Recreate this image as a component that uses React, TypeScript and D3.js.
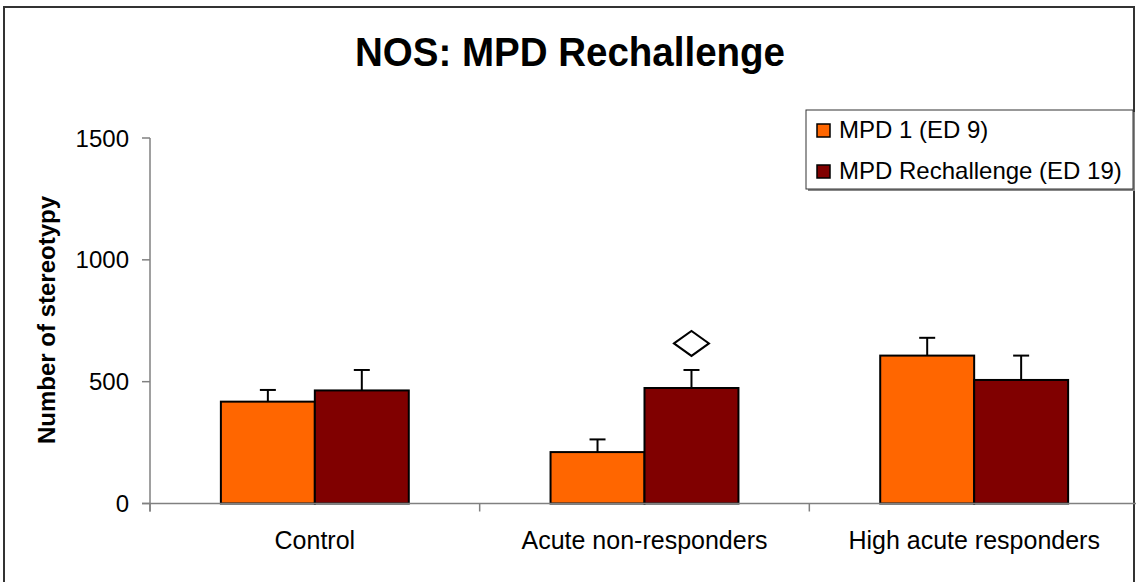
import { scaleBand, scaleLinear } from 'd3';

const categories = ['Control', 'Acute non-responders', 'High acute responders'];
const seriesNames = ['MPD 1 (ED 9)', 'MPD Rechallenge (ED 19)'];
const mpd1 = [418, 211, 607];
const mpd1Err = [48, 52, 73];
const rechallenge = [464, 474, 507];
const rechallengeErr = [84, 74, 100];
const yTicks = [0, 500, 1000, 1500];
// significance marker (open diamond) above a bar
const markers = [{ category: 'Acute non-responders', series: 1, value: 657 }];

const colors = ['#ff6600', '#800000'];
const axisColor = '#808080';
const font = 'Liberation Sans, Arial, sans-serif';

export default function App() {
  const width = 1136;
  const height = 582;

  const x = scaleBand<string>().domain(categories).range([150, 1139]);
  const bw = x.bandwidth();
  const gw = bw * 0.57;
  const inner = scaleBand<number>()
    .domain([0, 1])
    .range([(bw - gw) / 2, (bw + gw) / 2]);
  const y = scaleLinear().domain([0, 1500]).range([503.5, 138]);

  const series = [
    { name: seriesNames[0], values: mpd1, errs: mpd1Err },
    { name: seriesNames[1], values: rechallenge, errs: rechallengeErr },
  ];

  const boundaries = [...categories.map((c) => x(c) ?? 0), x.range()[1]];

  return (
    <>
      <style>{'body{margin:0}'}</style>
      <svg width={width} height={height} style={{ display: 'block' }} fontFamily={font}>
        <rect x={0} y={0} width={width} height={height} fill="#fff" />
        <rect x={4} y={7} width={1130} height={600} fill="none" stroke="#333" strokeWidth={2} />

        <text
          x={570}
          y={66}
          textAnchor="middle"
          fontSize={41}
          fontWeight="bold"
          textLength={430}
          lengthAdjust="spacingAndGlyphs"
        >
          NOS: MPD Rechallenge
        </text>

        {/* y axis */}
        <line x1={150} x2={150} y1={y(1500)} y2={y(0) + 8} stroke={axisColor} strokeWidth={1.5} />
        {yTicks.map((t) => (
          <g key={t}>
            <line x1={142} x2={150} y1={y(t)} y2={y(t)} stroke={axisColor} strokeWidth={1.5} />
            <text x={129} y={y(t)} dy="0.36em" textAnchor="end" fontSize={24}>
              {t}
            </text>
          </g>
        ))}
        <text
          transform={`translate(55,320) rotate(-90)`}
          textAnchor="middle"
          fontSize={24}
          fontWeight="bold"
        >
          Number of stereotypy
        </text>

        {/* bars */}
        {categories.map((c, i) => (
          <g key={c} transform={`translate(${x(c)},0)`}>
            {series.map((s, j) => {
              const bx = inner(j) ?? 0;
              const cx = bx + inner.bandwidth() / 2;
              const top = y(s.values[i]);
              const errTop = y(s.values[i] + s.errs[i]);
              return (
                <g key={s.name}>
                  <line x1={cx} x2={cx} y1={top} y2={errTop} stroke="#000" strokeWidth={2} />
                  <line x1={cx - 8} x2={cx + 8} y1={errTop} y2={errTop} stroke="#000" strokeWidth={2} />
                  <rect
                    x={bx}
                    y={top}
                    width={inner.bandwidth()}
                    height={y(0) - top}
                    fill={colors[j]}
                    stroke="#000"
                    strokeWidth={2}
                  />
                </g>
              );
            })}
          </g>
        ))}

        {/* x axis */}
        <line x1={142} x2={1140} y1={y(0)} y2={y(0)} stroke={axisColor} strokeWidth={1.5} />
        {boundaries.map((b, i) => (
          <line key={i} x1={b} x2={b} y1={y(0)} y2={y(0) + 8} stroke={axisColor} strokeWidth={1.5} />
        ))}
        {categories.map((c) => (
          <text key={c} x={(x(c) ?? 0) + bw / 2} y={549} textAnchor="middle" fontSize={25}>
            {c}
          </text>
        ))}

        {/* markers */}
        {markers.map((m, k) => {
          const cx = (x(m.category) ?? 0) + (inner(m.series) ?? 0) + inner.bandwidth() / 2;
          const cy = y(m.value);
          return (
            <path
              key={k}
              d={`M${cx - 17.5},${cy} L${cx},${cy - 12.5} L${cx + 17.5},${cy} L${cx},${cy + 12.5} Z`}
              fill="#fff"
              stroke="#000"
              strokeWidth={2}
            />
          );
        })}

        {/* legend */}
        <rect x={808} y={112} width={327} height={79} fill="#888" />
        <rect x={806} y={110} width={327} height={79} fill="#fff" stroke="#333" strokeWidth={1} />
        {series.map((s, j) => (
          <g key={s.name} transform={`translate(817,${124 + j * 41})`}>
            <rect x={0} y={0} width={13} height={13} fill={colors[j]} stroke="#000" strokeWidth={1.5} />
            <text x={22} y={14} fontSize={24}>
              {s.name}
            </text>
          </g>
        ))}
      </svg>
    </>
  );
}
